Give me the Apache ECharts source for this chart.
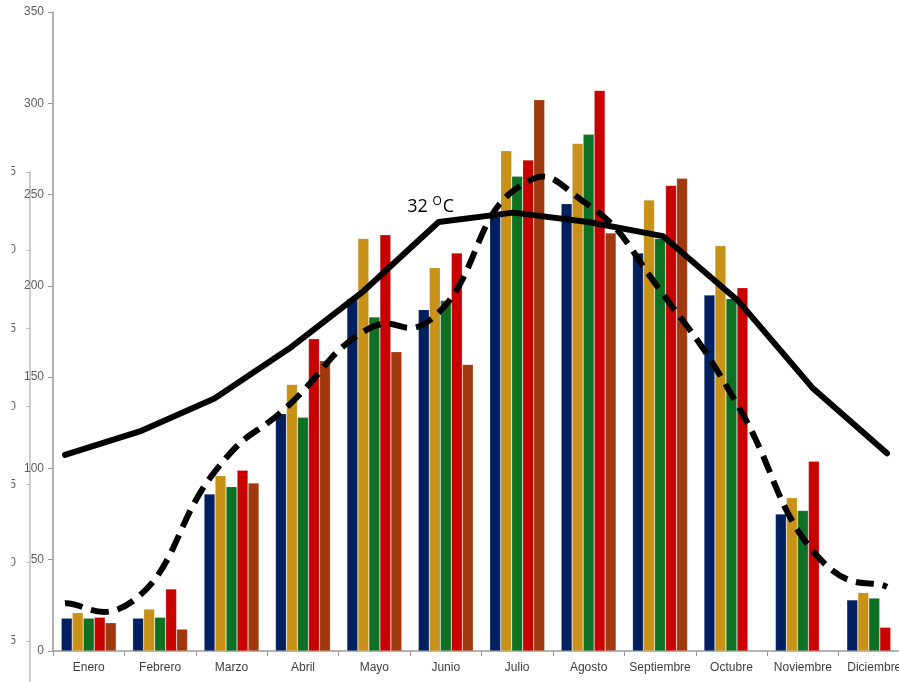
<!DOCTYPE html>
<html>
<head>
<meta charset="utf-8">
<script src="https://cdn.jsdelivr.net/npm/echarts/dist/echarts.min.js"></script>
<style>
html,body{margin:0;padding:0;background:#fff;}
#chart{width:899px;height:682px;}
</style>
</head>
<body>
<div id="chart"></div>
<script>
const months = ['Enero','Febrero','Marzo','Abril','Mayo','Junio','Julio','Agosto','Septiembre','Octubre','Noviembre','Diciembre'];
const primaryTicks = {min: 0, max: 350, interval: 50};
const tempTicks = {min: 0, max: 35, interval: 5};

const serieAzul   = [18, 18, 86, 130, 193, 187, 238, 245, 218, 195, 75, 28];
const serieOro    = [21, 23, 96, 146, 226, 210, 274, 278, 247, 222, 84, 32];
const serieVerde  = [18, 18.5, 90, 128, 183, 192, 260, 283, 226, 193, 77, 29];
const serieRoja   = [18.5, 34, 99, 171, 228, 218, 269, 307, 255, 199, 104, 13];
const serieMarron = [15.5, 12, 92, 159, 164, 157, 302, 229, 259, null, null, null];

const tempMax  = [16.9, 18.4, 20.5, 23.7, 27.4, 31.8, 32.4, 31.8, 30.9, 26.8, 21.2, 17.0];
const curvaDiscontinua = [7.4, 7.9, 15.8, 20.1, 24.8, 26.0, 33.8, 32.9, 27.2, 20.1, 10.8, 8.45];

const barColors = ['#002060', '#C89117', '#0E7022', '#C80000', '#A0390E'];
const barSeriesData = [serieAzul, serieOro, serieVerde, serieRoja, serieMarron];

const chart = echarts.init(document.getElementById('chart'), null, {renderer: 'canvas'});

const bars = barSeriesData.map((d, i) => ({
  type: 'bar',
  name: 'Serie ' + (i + 1),
  xAxisIndex: 0, yAxisIndex: 0,
  data: d,
  barWidth: 11,
  barGap: '0%',
  itemStyle: {color: barColors[i], borderColor: 'rgba(255,255,255,0.35)', borderWidth: 0.6},
  emphasis: {disabled: true},
  z: 2
}));

const tempData = tempMax.map((v, i) => i === 5 ? {
  value: v,
  label: {
    show: true,
    position: 'top',
    distance: 4,
    offset: [-8, 0],
    formatter: '{a|32 }{s|O}{a|C}',
    rich: {
      a: {fontFamily: 'Open Sans', fontSize: 18, color: '#000', lineHeight: 22},
      s: {fontFamily: 'Open Sans', fontSize: 12, color: '#000', padding: [0, 1, 9, 0], lineHeight: 22}
    }
  }
} : v);

// Smoothed curve (spreadsheet-style cardinal spline) drawn through the axis coordinates
const SMOOTH_F = 0.25;
function renderCurva(params, api) {
  if (params.dataIndex !== 0) return null;
  const pts = curvaDiscontinua.map((v, i) => api.coord([i, v]));
  const n = pts.length;
  let d = 'M' + pts[0][0] + ' ' + pts[0][1];
  for (let i = 0; i < n - 1; i++) {
    const p0 = pts[Math.max(i - 1, 0)], p1 = pts[i], p2 = pts[i + 1], p3 = pts[Math.min(i + 2, n - 1)];
    const c1x = p1[0] + (p2[0] - p0[0]) * SMOOTH_F, c1y = p1[1] + (p2[1] - p0[1]) * SMOOTH_F;
    const c2x = p2[0] - (p3[0] - p1[0]) * SMOOTH_F, c2y = p2[1] - (p3[1] - p1[1]) * SMOOTH_F;
    d += ' C' + c1x + ' ' + c1y + ' ' + c2x + ' ' + c2y + ' ' + p2[0] + ' ' + p2[1];
  }
  return {
    type: 'path',
    shape: {pathData: d},
    style: {fill: 'none', stroke: '#000', lineWidth: 6, lineDash: [18, 9], lineCap: 'butt'},
    silent: true
  };
}

const option = {
  animation: false,
  backgroundColor: '#ffffff',
  grid: [
    {left: 53, right: -11, top: 12, bottom: 31, containLabel: false, outerBoundsMode: 'none'},
    {left: 65, right: 12, top: 172, height: 547, containLabel: false, outerBoundsMode: 'none'}
  ],
  xAxis: [
    {
      type: 'category', gridIndex: 0, data: months,
      axisLine: {show: true, lineStyle: {color: '#9a9a9a', width: 1.5}},
      axisTick: {show: true, alignWithLabel: false, length: 5, lineStyle: {color: '#9a9a9a'}},
      axisLabel: {color: '#404040', fontSize: 12, fontFamily: 'Liberation Sans', margin: 11, interval: 0},
      splitLine: {show: false}
    },
    {
      type: 'category', gridIndex: 1, data: months, boundaryGap: false, show: false
    }
  ],
  yAxis: [
    {
      type: 'value', gridIndex: 0,
      min: primaryTicks.min, max: primaryTicks.max, interval: primaryTicks.interval,
      axisLine: {show: true, lineStyle: {color: '#9a9a9a', width: 1.5}},
      axisTick: {show: true, length: 5, lineStyle: {color: '#9a9a9a'}},
      axisLabel: {color: '#5f5f5f', fontSize: 12, fontFamily: 'Liberation Sans', margin: 9},
      splitLine: {show: false}
    },
    {
      type: 'value', gridIndex: 1, position: 'left', offset: 35,
      min: tempTicks.min, max: tempTicks.max, interval: tempTicks.interval,
      axisLine: {show: true, lineStyle: {color: '#bdbdbd', width: 1.5}},
      axisTick: {show: true, length: 4, lineStyle: {color: '#bdbdbd'}},
      axisLabel: {color: '#5f5f5f', fontSize: 12, fontFamily: 'Liberation Sans', margin: 14},
      splitLine: {show: false}
    }
  ],
  graphic: [
    {type: 'rect', left: 0, top: 140, z: 100, shape: {width: 11.5, height: 542}, style: {fill: '#ffffff'}}
  ],
  series: bars.concat([
    {
      type: 'line', name: 'Temperatura', xAxisIndex: 1, yAxisIndex: 1,
      data: tempData,
      symbol: 'circle', symbolSize: 1, showSymbol: true,
      itemStyle: {color: '#000'},
      lineStyle: {color: '#000', width: 6, cap: 'round', join: 'round'},
      emphasis: {disabled: true},
      z: 5
    },
    {
      type: 'custom', name: 'Curva', xAxisIndex: 1, yAxisIndex: 1,
      coordinateSystem: 'cartesian2d',
      data: curvaDiscontinua.map((v, i) => [i, v]),
      encode: {x: 0, y: 1},
      renderItem: renderCurva,
      clip: false,
      z: 5
    }
  ])
};
chart.setOption(option);
</script>
</body>
</html>
